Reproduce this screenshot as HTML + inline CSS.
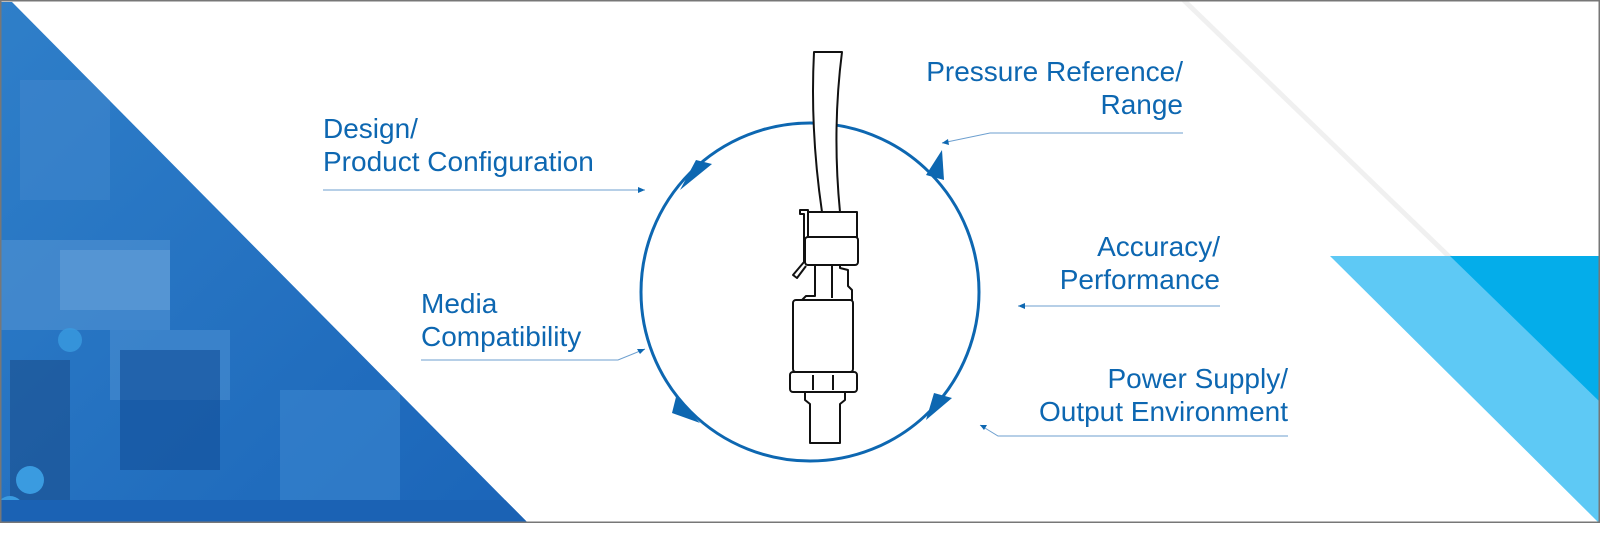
<!DOCTYPE html>
<html><head><style>
html,body{margin:0;padding:0;background:#fff}
#c{position:relative;width:1600px;height:534px;overflow:hidden;background:#fff}
.t{position:absolute;font-family:"Liberation Sans",Arial,sans-serif;font-size:28px;line-height:33px;color:#0d67b1;white-space:nowrap}
</style></head><body><div id="c">
<svg width="1600" height="534" style="position:absolute;left:0;top:0">
<defs>
<clipPath id="lt"><polygon points="0,2 12,2 527,522 0,522"/></clipPath>
<linearGradient id="g" x1="0" y1="0" x2="1" y2="1"><stop offset="0" stop-color="#2f7fc9"/><stop offset="1" stop-color="#1a64b8"/></linearGradient>
</defs>
<g clip-path="url(#lt)">
<rect x="0" y="0" width="540" height="534" fill="url(#g)"/>
<rect x="0" y="240" width="170" height="90" fill="#4b8fd0" opacity=".7"/>
<rect x="60" y="250" width="110" height="60" fill="#6aa3da" opacity=".5"/>
<rect x="20" y="80" width="90" height="120" fill="#3f86cc" opacity=".6"/>
<rect x="110" y="330" width="120" height="70" fill="#4a8dd0" opacity=".6"/>
<rect x="120" y="350" width="100" height="120" fill="#124f98" opacity=".6"/>
<rect x="10" y="360" width="60" height="140" fill="#1a4f8c" opacity=".6"/>
<rect x="280" y="390" width="120" height="120" fill="#3a86cf" opacity=".6"/>
<circle cx="30" cy="480" r="14" fill="#3a9be0"/><circle cx="10" cy="510" r="14" fill="#3a9be0"/>
<circle cx="70" cy="340" r="12" fill="#3a9be0" opacity=".8"/>
<rect x="0" y="500" width="540" height="34" fill="#1b62b4"/>
</g>
<polygon points="1180,0 1187,0 1452,256 1445,256" fill="#ececec" opacity=".8"/>
<polygon points="1330,256 1600,256 1600,522 1598,522" fill="#5ec9f5"/>
<polygon points="1450,256 1600,256 1600,402" fill="#04adea"/>
<circle cx="810" cy="292" r="169" fill="none" stroke="#0d67b1" stroke-width="3"/>
<g fill="#0d67b1">
<polygon points="680,190 712,164 696,160"/>
<polygon points="942,150 926,175 944,180"/>
<polygon points="700,423 676,397 672,413"/>
<polygon points="926,420 952,398 934,393"/>
</g>
<g stroke="#6d9fcf" stroke-width="1" fill="none">
<polyline points="323,190 645,190"/>
<polyline points="421,360 618,360 645,349"/>
<polyline points="1183,133 990,133 942,143"/>
<polyline points="1220,306 1018,306"/>
<polyline points="1288,436 998,436 980,425"/>
</g>
<g fill="#0d67b1"><polygon points="645,190 638,187 638,193"/><polygon points="1018,306 1025,303 1025,309"/><polygon points="942,143 948,139 949,145"/><polygon points="980,425 987,425 984,430"/><polygon points="645,349 637,349 640,354"/></g>
<g stroke="#111" stroke-width="2" fill="#fff" stroke-linejoin="round">
<path d="M814,52 L842,52 Q832,130 840,212 L822,212 Q810,130 814,52Z"/>
<rect x="808" y="212" width="49" height="25"/>
<path d="M800,210 L808,210 L808,262 L804,262 L804,214 L800,214Z"/>
<path d="M804,262 L793,275 L797,278 L806,266"/>
<rect x="805" y="237" width="53" height="28" rx="3"/>
<path d="M815,265 L815,296 L806,296 L800,302 L852,302 L852,290 L848,286 L848,270 L840,268 L840,265Z"/>
<line x1="832" y1="265" x2="832" y2="298"/>
<rect x="793" y="300" width="60" height="72" rx="3"/>
<rect x="790" y="372" width="67" height="20" rx="3"/>
<line x1="813" y1="375" x2="813" y2="390"/><line x1="833" y1="375" x2="833" y2="390"/>
<path d="M805,392 L845,392 L845,400 L840,404 L840,443 L810,443 L810,404 L805,400Z"/>
</g>
<rect x="0.5" y="0.5" width="1599" height="522" fill="none" stroke="#777" stroke-width="2"/>
<rect x="0" y="523" width="1600" height="11" fill="#fff"/>
</svg>
<div class="t" style="left:323px;top:112px">Design/<br>Product Configuration</div>
<div class="t" style="left:421px;top:287px">Media<br>Compatibility</div>
<div class="t" style="right:417px;top:55px;text-align:right">Pressure Reference/<br>Range</div>
<div class="t" style="right:380px;top:230px;text-align:right">Accuracy/<br>Performance</div>
<div class="t" style="right:312px;top:362px;text-align:right">Power Supply/<br>Output Environment</div>
</div></body></html>
